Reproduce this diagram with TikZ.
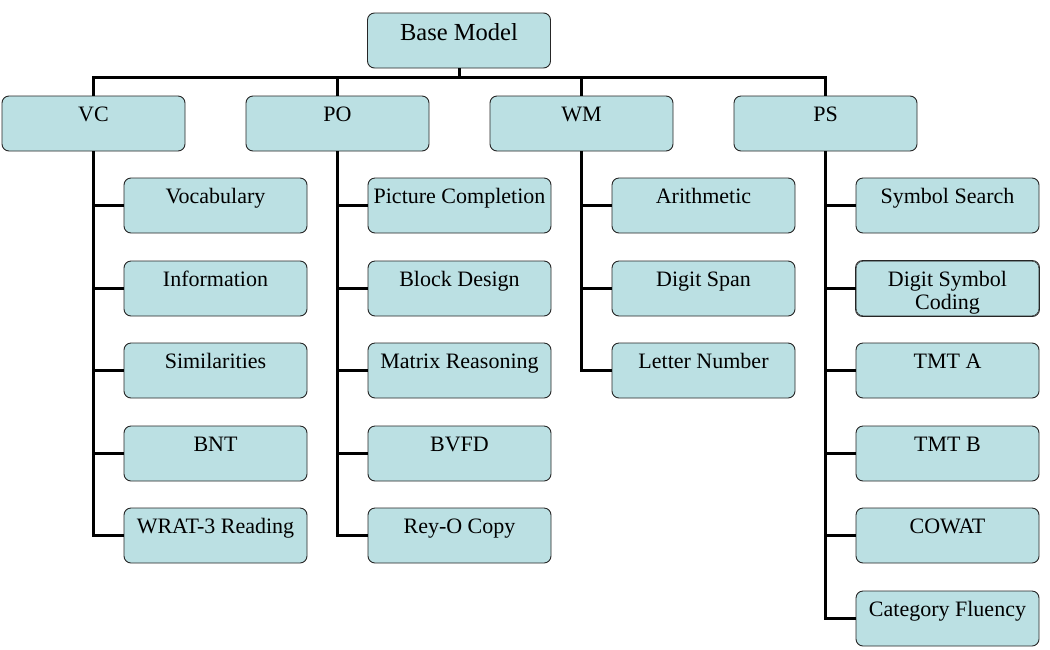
\documentclass[tikz,border=0pt]{standalone}
\usepackage{fontspec}
\setmainfont{Liberation Serif}
\begin{document}
\begin{tikzpicture}[x=1pt,y=-1pt,
  box/.style={draw=black!85, line width=0.9pt, fill=boxfill, rounded corners=7pt,
    minimum width=183pt, minimum height=55pt, inner xsep=2pt, inner ysep=0pt,
    text height=25pt, text depth=30pt,
    font=\rmfamily\fontsize{22}{23}\selectfont},
  topbox/.style={box, text height=27pt, text depth=28pt,
    font=\rmfamily\fontsize{24.5}{26}\selectfont},
  conn/.style={line width=3pt, black}]
\definecolor{boxfill}{HTML}{BBE0E3}
\useasboundingbox (0,0) rectangle (1050,649);
\fill[white] (0,0) rectangle (1050,649);
% top
\node[topbox] (base) at (459,40.5) {Base Model};
\node[box] (vc) at (93.5,123.5) {VC};
\node[box] (po) at (337.5,123.5) {PO};
\node[box] (wm) at (581.5,123.5) {WM};
\node[box] (ps) at (825.5,123.5) {PS};
% VC children
\node[box] (vc1) at (215.5,205.5) {Vocabulary};
\node[box] (vc2) at (215.5,288.5) {Information};
\node[box] (vc3) at (215.5,370.5) {Similarities};
\node[box] (vc4) at (215.5,453.5) {BNT};
\node[box] (vc5) at (215.5,535.5) {WRAT-3 Reading};
% PO children
\node[box] (po1) at (459.5,205.5) {Picture Completion};
\node[box] (po2) at (459.5,288.5) {Block Design};
\node[box] (po3) at (459.5,370.5) {Matrix Reasoning};
\node[box] (po4) at (459.5,453.5) {BVFD};
\node[box] (po5) at (459.5,535.5) {Rey-O Copy};
% WM children
\node[box] (wm1) at (703.5,205.5) {Arithmetic};
\node[box] (wm2) at (703.5,288.5) {Digit Span};
\node[box] (wm3) at (703.5,370.5) {Letter Number};
% PS children
\node[box] (ps1) at (947.5,205.5) {Symbol Search};
\begin{scope}
  \clip[rounded corners=7pt] (856,261) rectangle (1039,316);
  \node[box] (ps2) at (947.5,288.5) {\begin{tabular}[t]{@{}c@{}}Digit Symbol\\Coding\end{tabular}};
\end{scope}
\draw[draw=black!85, line width=0.9pt, rounded corners=7pt] (ps2.south west) rectangle (ps2.north east);
\node[box] (ps3) at (947.5,370.5) {TMT A};
\node[box] (ps4) at (947.5,453.5) {TMT B};
\node[box] (ps5) at (947.5,535.5) {COWAT};
\node[box] (ps6) at (947.5,618.5) {Category Fluency};
% connectors
\coordinate (bus) at (459,77);
\draw[conn] (base.south) -- (bus);
\draw[conn] (bus) -| (vc.north);
\draw[conn] (bus) -| (po.north);
\draw[conn] (bus) -| (wm.north);
\draw[conn] (bus) -| (ps.north);
\foreach \c in {vc1,vc2,vc3,vc4,vc5} \draw[conn] (vc.south) |- (\c.west);
\foreach \c in {po1,po2,po3,po4,po5} \draw[conn] (po.south) |- (\c.west);
\foreach \c in {wm1,wm2,wm3} \draw[conn] (wm.south) |- (\c.west);
\foreach \c in {ps1,ps2,ps3,ps4,ps5,ps6} \draw[conn] (ps.south) |- (\c.west);
\end{tikzpicture}
\end{document}
